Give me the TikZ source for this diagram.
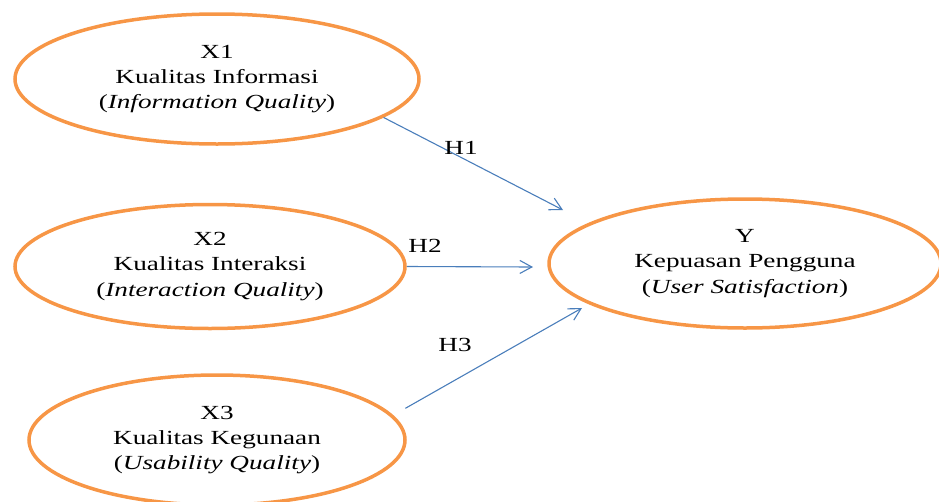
\documentclass[tikz,border=0pt]{standalone}
\usepackage{fontspec}
\setmainfont{Liberation Serif}[FakeStretch=1.36]
\usepackage{tikz}
\usetikzlibrary{
  arrows.meta,
  positioning,
  shapes.geometric
}
\definecolor{oranye}{HTML}{F79646}
\definecolor{biru}{HTML}{4A7EBB}

\begin{document}
\begin{tikzpicture}[
      x=1pt, y=-1pt,
      variabel/.style={ellipse, draw=oranye, line width=3.5pt, inner sep=0pt,
                       align=center, font=\fontsize{20}{25.3}\selectfont},
      panah/.style={-{Straight Barb[length=12pt,width=13pt]}, line width=1.1pt, biru},
      hipotesis/.style={inner sep=0pt, font=\fontsize{20}{24}\selectfont}
  ]
      \useasboundingbox (0,0) rectangle (939,501);

      % --- VARIABEL INDEPENDEN ---
      \node[variabel, minimum width=404pt, minimum height=130pt] (x1) at (217,79)
          {X1\\Kualitas Informasi\\(\textit{Information Quality})};
      \node[variabel, minimum width=390pt, minimum height=124pt] (x2) at (210,266.5)
          {X2\\Kualitas Interaksi\\(\textit{Interaction Quality})};
      \node[variabel, minimum width=376pt, minimum height=130pt] (x3) at (217,440)
          {X3\\Kualitas Kegunaan\\(\textit{Usability Quality})};

      % --- VARIABEL DEPENDEN ---
      \node[variabel, minimum width=392pt, minimum height=129pt] (y) at (745,263.5)
          {Y\\Kepuasan Pengguna\\(\textit{User Satisfaction})};

      % --- HIPOTESIS ---
      \coordinate (ujung1) at (563,210);
      \coordinate (ujung2) at (533,267);
      \coordinate (ujung3) at (582,308);
      \draw[panah] (x1.-13) -- (ujung1);
      \draw[panah] (x2.east) -- (ujung2);
      \draw[panah, shorten <=14pt] (x3.8) -- (ujung3);
      \node[hipotesis] (h1) at (461,148) {H1};
      \node[hipotesis] (h2) at (425,245.5) {H2};
      \node[hipotesis] (h3) at (455,344.5) {H3};

  \end{tikzpicture}
\end{document}
